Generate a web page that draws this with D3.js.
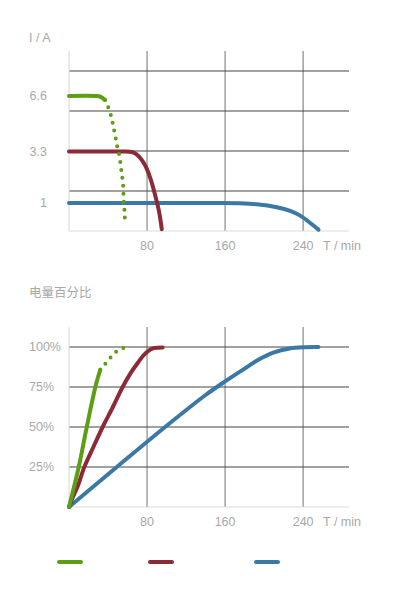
<!DOCTYPE html>
<html>
<head>
<meta charset="utf-8">
<script src="https://cdn.jsdelivr.net/npm/d3@7"></script>
<style>
 body { margin: 0; background: #fff; }
 text { font-family: "Liberation Sans", "Noto Sans CJK SC", sans-serif; fill: #a8a8a8; font-size: 12.5px; }
</style>
</head>
<body>
<script>

// ticks
var timeTicks    = [80, 160, 240]
var currentTicks = [1, 3.3, 6.6]
var percentTicks = [25, 50, 75, 100]
var gridRows     = [1, 2, 3, 4]

// current (A) against time (min)
var greenCurrent    = [[0,6.6],[27,6.6],[32,6.56],[36.9,6.36]]
var greenCurrentDot = [[36.9,6.36],[39.3,6.06],[42.1,5.63],[44.1,5.17],[45.8,4.68],[47.5,4.22],[48.9,3.73],[51,3.25],
                       [52.3,2.92],[53.3,2.57],[54.4,2.2],[55.4,1.84],[55.7,1.5],[56.1,1.13],[56.7,0.83],[57.1,0.55],[57.4,0.28]]
var redCurrent      = [[0,3.3],[56,3.3],[62,3.29],[67,3.24],[72,3.06],[76.5,2.8],[80,2.5],[84,2.02],[88,1.4],[92.3,0.69],[95.1,0.06]]
var blueCurrent     = [[0,1],[150,1],[175,0.99],[192.5,0.955],[213,0.85],[226.7,0.72],[237,0.55],[245.4,0.34],[255.7,0.05]]

// charge percentage against time (min)
var greenCharge    = [[0,0],[10,25],[18.2,50],[27,75],[29.6,80.8],[32.1,85.8]]
var greenChargeDot = [[32.1,85.8],[35.5,88.6],[38.6,90.4],[44.1,94.6],[49.9,97.7],[57.4,99.8]]
var redCharge      = [[0,0],[4,6.2],[8.9,12.9],[15.7,25],[25,37.5],[34.5,50],[45,62.5],[55,75],[63,83.5],[70.4,90],[76,94.5],
                      [80.7,97.3],[86,99.1],[91,99.6],[96,99.7]]
var blueCharge     = [[0,0],[49,25],[98.5,50],[140,70],[160,78.5],[180,86.5],[194,92],[209.5,96.5],[226,99.1],[242,99.9],[255.7,100]]

var colors = { green: '#5c9e14', red: '#8c2b38', blue: '#3c78a5' }

var W = 398, H = 598
var svg = d3.select('body').append('svg').attr('width', W).attr('height', H)

var x = d3.scaleLinear().domain([0, 287]).range([69, 349])

function frame(g, top, bottom, rowScale) {
  // vertical grid
  g.selectAll('.vgrid').data(timeTicks).enter().append('line')
   .attr('x1', x).attr('x2', x).attr('y1', top).attr('y2', bottom)
   .attr('stroke', '#9a9a9a').attr('stroke-width', 1.4)
  // horizontal grid
  g.selectAll('.hgrid').data(gridRows).enter().append('line')
   .attr('x1', 69).attr('x2', 349).attr('y1', rowScale).attr('y2', rowScale)
   .attr('stroke', '#444').attr('stroke-width', 1.2)
  // axes
  g.append('line').attr('x1', 69).attr('x2', 349).attr('y1', bottom).attr('y2', bottom).attr('stroke', '#dcdcdc').attr('stroke-width', 1.2)
  g.append('line').attr('x1', 69).attr('x2', 69).attr('y1', top).attr('y2', bottom).attr('stroke', '#dcdcdc').attr('stroke-width', 1.2)
  g.selectAll('.xt').data(timeTicks).enter().append('text')
   .attr('x', x).attr('y', bottom + 15).attr('dy', '0.35em').attr('text-anchor', 'middle').text(function(d) { return d })
  g.append('text').attr('x', 323).attr('y', bottom + 15).attr('dy', '0.35em').text('T / min')
}

function curve(g, data, y, color, dotted) {
  var line = d3.line().x(function(d) { return x(d[0]) }).y(function(d) { return y(d[1]) }).curve(d3.curveCatmullRom.alpha(0.5))
  g.append('path').attr('d', line(data)).attr('fill', 'none').attr('stroke', color)
   .attr('stroke-width', 4).attr('stroke-linecap', 'round')
   .attr('stroke-dasharray', dotted ? '0 8' : null)
}

// ---- top chart
var top1 = svg.append('g')
var yI = d3.scaleLinear().domain([0, 1, 3.3, 6.6]).range([231, 203, 151.5, 96])
var row1 = d3.scaleLinear().domain([0, 4.5]).range([231, 51])
frame(top1, 51, 231, row1)
top1.append('text').attr('x', 29).attr('y', 38).attr('dy', '0.35em').text('I / A')
top1.selectAll('.yt').data(currentTicks).enter().append('text')
  .attr('x', 47).attr('y', yI).attr('dy', '0.35em').attr('text-anchor', 'end').text(function(d) { return d })
curve(top1, blueCurrent, yI, colors.blue)
curve(top1, redCurrent, yI, colors.red)
curve(top1, greenCurrent, yI, colors.green)
curve(top1, greenCurrentDot, yI, colors.green, true)

// ---- bottom chart
var bot = svg.append('g')
var yP = d3.scaleLinear().domain([0, 112.5]).range([507, 327])
var row2 = function(r) { return yP(r * 25) }
frame(bot, 327, 507, row2)
bot.append('text').attr('x', 29).attr('y', 293).attr('dy', '0.35em').text('电量百分比')
bot.selectAll('.yt').data(percentTicks).enter().append('text')
  .attr('x', 29).attr('y', yP).attr('dy', '0.35em').text(function(d) { return d + '%' })
curve(bot, blueCharge, yP, colors.blue)
curve(bot, redCharge, yP, colors.red)
curve(bot, greenCharge, yP, colors.green)
curve(bot, greenChargeDot, yP, colors.green, true)

// ---- legend (line keys only)
var legend = [[59, colors.green], [150, colors.red], [256, colors.blue]]
svg.selectAll('.key').data(legend).enter().append('line')
  .attr('x1', function(d) { return d[0] }).attr('x2', function(d) { return d[0] + 22 })
  .attr('y1', 562).attr('y2', 562)
  .attr('stroke', function(d) { return d[1] }).attr('stroke-width', 4).attr('stroke-linecap', 'round')

</script>
</body>
</html>
